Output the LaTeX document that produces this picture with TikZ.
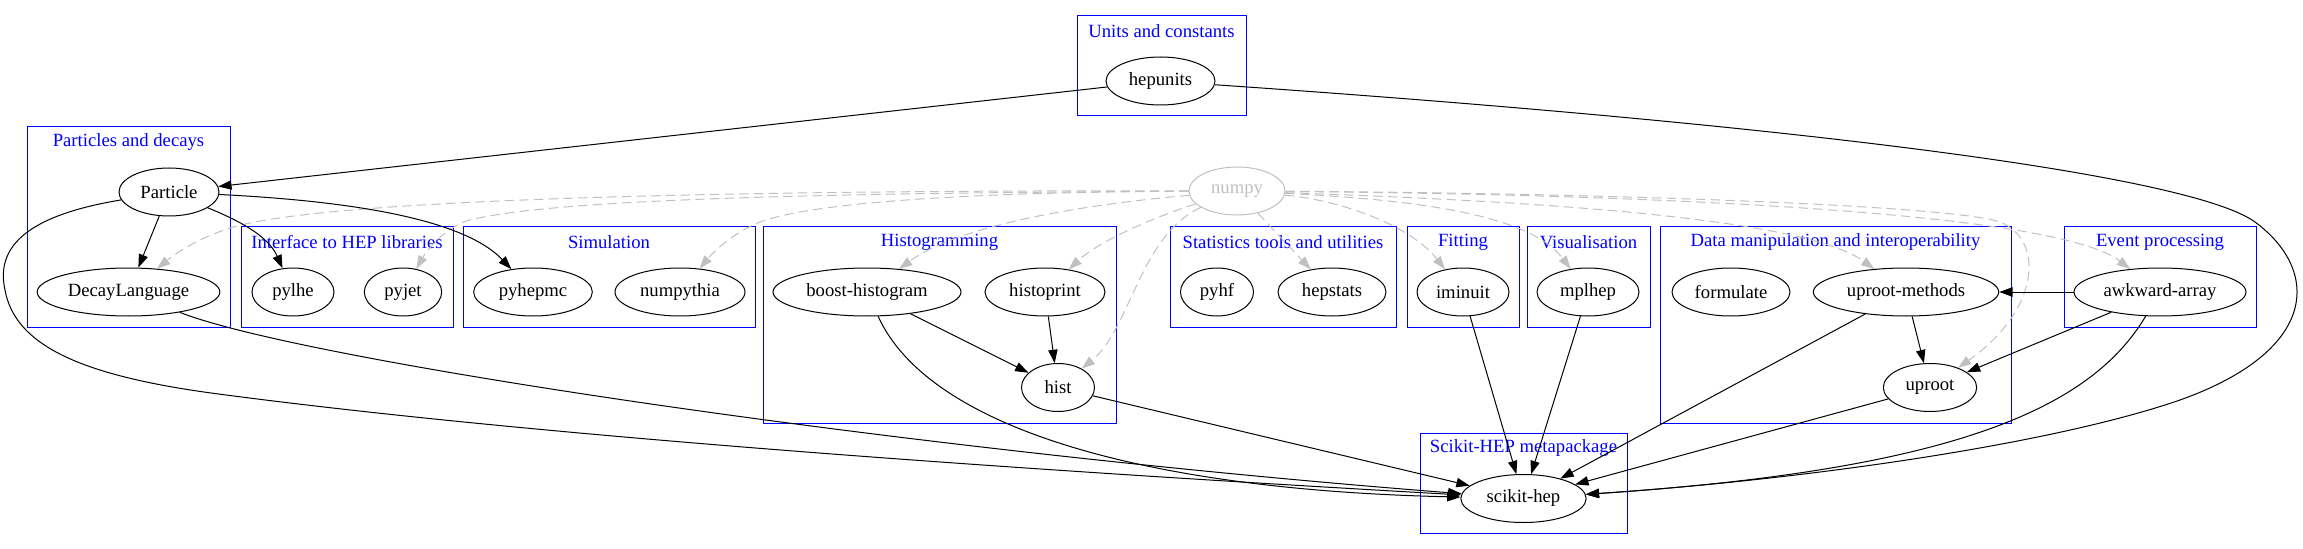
\documentclass[tikz,border=0pt]{standalone}
\usepackage{fontspec}
\setmainfont{Liberation Serif}
\usepackage{tikz}
\usetikzlibrary{shapes.geometric,arrows.meta}
\definecolor{clusterblue}{HTML}{0000FF}
\definecolor{npgrey}{HTML}{C0C0C0}

\begin{document}
\begin{tikzpicture}[x=0.75pt,y=-0.75pt,font=\fontsize{14}{16}\selectfont,
  pkg/.style={draw,ellipse,line width=0.75pt,inner sep=0pt,minimum height=36pt},
  np/.style={pkg,draw=npgrey,text=npgrey},
  box/.style={draw=clusterblue,line width=0.75pt},
  boxtitle/.style={text=clusterblue,inner sep=0pt},
  dep/.style={line width=0.75pt,-{Triangle[length=10pt,width=7pt]}},
  npdep/.style={dep,npgrey,dash pattern=on 7pt off 4pt}]
  \useasboundingbox (0,0) rectangle (2303,549);

  \draw[box] (1077,16) rectangle (1246,116);
  \node[boxtitle] (t-units) at (1161.5,31) {Units and constants};
  \draw[box] (27,127) rectangle (230,327);
  \node[boxtitle] (t-particles) at (128.5,142) {Particles and decays};
  \draw[box] (241,227) rectangle (453,327);
  \node[boxtitle] (t-interface) at (347,242) {Interface to HEP libraries};
  \draw[box] (463,227) rectangle (755,327);
  \node[boxtitle] (t-sim) at (609,242) {Simulation};
  \draw[box] (763,227) rectangle (1116,423);
  \node[boxtitle] (t-histo) at (939.5,242) {Histogramming};
  \draw[box] (1170,227) rectangle (1396,327);
  \node[boxtitle] (t-stats) at (1283,242) {Statistics tools and utilities};
  \draw[box] (1407,227) rectangle (1519,327);
  \node[boxtitle] (t-fit) at (1463,242) {Fitting};
  \draw[box] (1527,227) rectangle (1650,327);
  \node[boxtitle] (t-vis) at (1588.5,242) {Visualisation};
  \draw[box] (1660,227) rectangle (2011,423);
  \node[boxtitle] (t-data) at (1835.5,242) {Data manipulation and interoperability};
  \draw[box] (2064,227) rectangle (2256,327);
  \node[boxtitle] (t-event) at (2160,242) {Event processing};
  \draw[box] (1420,433) rectangle (1627,533);
  \node[boxtitle] (t-meta) at (1523.5,448) {Scikit-HEP metapackage};

  \node[pkg,minimum width=81.75pt] (hepunits) at (1160.5,81) {hepunits};
  \node[pkg,minimum width=75pt] (particle) at (169,192) {Particle};
  \node[pkg,minimum width=137pt] (decaylang) at (128.5,292) {DecayLanguage};
  \node[pkg,minimum width=61.5pt] (pylhe) at (293,292) {pylhe};
  \node[pkg,minimum width=58pt] (pyjet) at (403,292) {pyjet};
  \node[pkg,minimum width=89pt] (pyhepmc) at (533,292) {pyhepmc};
  \node[pkg,minimum width=97.5pt] (numpythia) at (680,292) {numpythia};
  \node[pkg,minimum width=141pt] (boosthist) at (867,292) {boost-histogram};
  \node[pkg,minimum width=90pt] (histoprint) at (1045,292) {histoprint};
  \node[pkg,minimum width=54.75pt] (hist) at (1058,387.5) {hist};
  \node[np,minimum width=72pt] (numpy) at (1237,191) {numpy};
  \node[pkg,minimum width=54.75pt] (pyhf) at (1217,292) {pyhf};
  \node[pkg,minimum width=81pt] (hepstats) at (1332,292) {hepstats};
  \node[pkg,minimum width=69pt] (iminuit) at (1463,292) {iminuit};
  \node[pkg,minimum width=76.5pt] (mplhep) at (1588,292) {mplhep};
  \node[pkg,minimum width=88.5pt] (formulate) at (1731,292) {formulate};
  \node[pkg,minimum width=139pt] (uprootm) at (1906,292) {uproot-methods};
  \node[pkg,minimum width=70pt] (uproot) at (1930,387.5) {uproot};
  \node[pkg,minimum width=129pt] (awkward) at (2160,292) {awkward-array};
  \node[pkg,minimum width=94pt] (skhep) at (1523.5,498.5) {scikit-hep};

  \draw[npdep] (numpy) .. controls (700,190) and (320,200) .. (230,228)
    .. controls (200,238) and (180,250) .. (decaylang);
  \draw[npdep] (numpy) .. controls (800,193) and (550,200) .. (470,220)
    .. controls (450,225) and (430,245) .. (pyjet);
  \draw[npdep] (numpy) .. controls (1000,192) and (820,200) .. (760,222)
    .. controls (735,232) and (715,250) .. (numpythia);
  \draw[npdep] (numpy) .. controls (1080,205) and (960,225) .. (boosthist);
  \draw[npdep] (numpy) .. controls (1160,215) and (1100,240) .. (histoprint);
  \draw[npdep] (numpy) .. controls (1140,235) and (1130,330) .. (hist);
  \draw[npdep] (numpy) -- (hepstats);
  \draw[npdep] (numpy) .. controls (1340,200) and (1410,225) .. (iminuit);
  \draw[npdep] (numpy) .. controls (1420,200) and (1530,215) .. (mplhep);
  \draw[npdep] (numpy) .. controls (1500,200) and (1800,215) .. (uprootm);
  \draw[npdep] (numpy) .. controls (1700,195) and (2060,215) .. (awkward);
  \draw[npdep] (numpy) .. controls (1600,193) and (1950,205) .. (2000,222)
    .. controls (2045,240) and (2040,310) .. (uproot);

  \draw[dep] (hepunits) -- (particle);
  \draw[dep] (hepunits) .. controls (1800,125) and (2190,175) .. (2255,222)
    .. controls (2320,270) and (2320,350) .. (2180,400)
    .. controls (2050,445) and (1800,480) .. (skhep);
  \draw[dep] (particle) -- (decaylang);
  \draw[dep] (particle) .. controls (250,225) and (270,240) .. (pylhe);
  \draw[dep] (particle) .. controls (330,200) and (460,215) .. (pyhepmc);
  \draw[dep] (particle) .. controls (30,215) and (-5,245) .. (5,290)
    .. controls (15,345) and (80,375) .. (211,393)
    .. controls (600,445) and (1200,480) .. (skhep);
  \draw[dep] (decaylang) .. controls (300,360) and (900,450) .. (skhep);
  \draw[dep] (boosthist) -- (hist);
  \draw[dep] (histoprint) -- (hist);
  \draw[dep] (boosthist) .. controls (930,430) and (1150,490) .. (skhep);
  \draw[dep] (hist) -- (skhep);
  \draw[dep] (iminuit) -- (skhep);
  \draw[dep] (mplhep) -- (skhep);
  \draw[dep] (uprootm) -- (uproot);
  \draw[dep] (uprootm) -- (skhep);
  \draw[dep] (uproot) -- (skhep);
  \draw[dep] (awkward) -- (uprootm);
  \draw[dep] (awkward) -- (uproot);
  \draw[dep] (awkward) .. controls (2090,410) and (1950,470) .. (skhep);
\end{tikzpicture}
\end{document}
